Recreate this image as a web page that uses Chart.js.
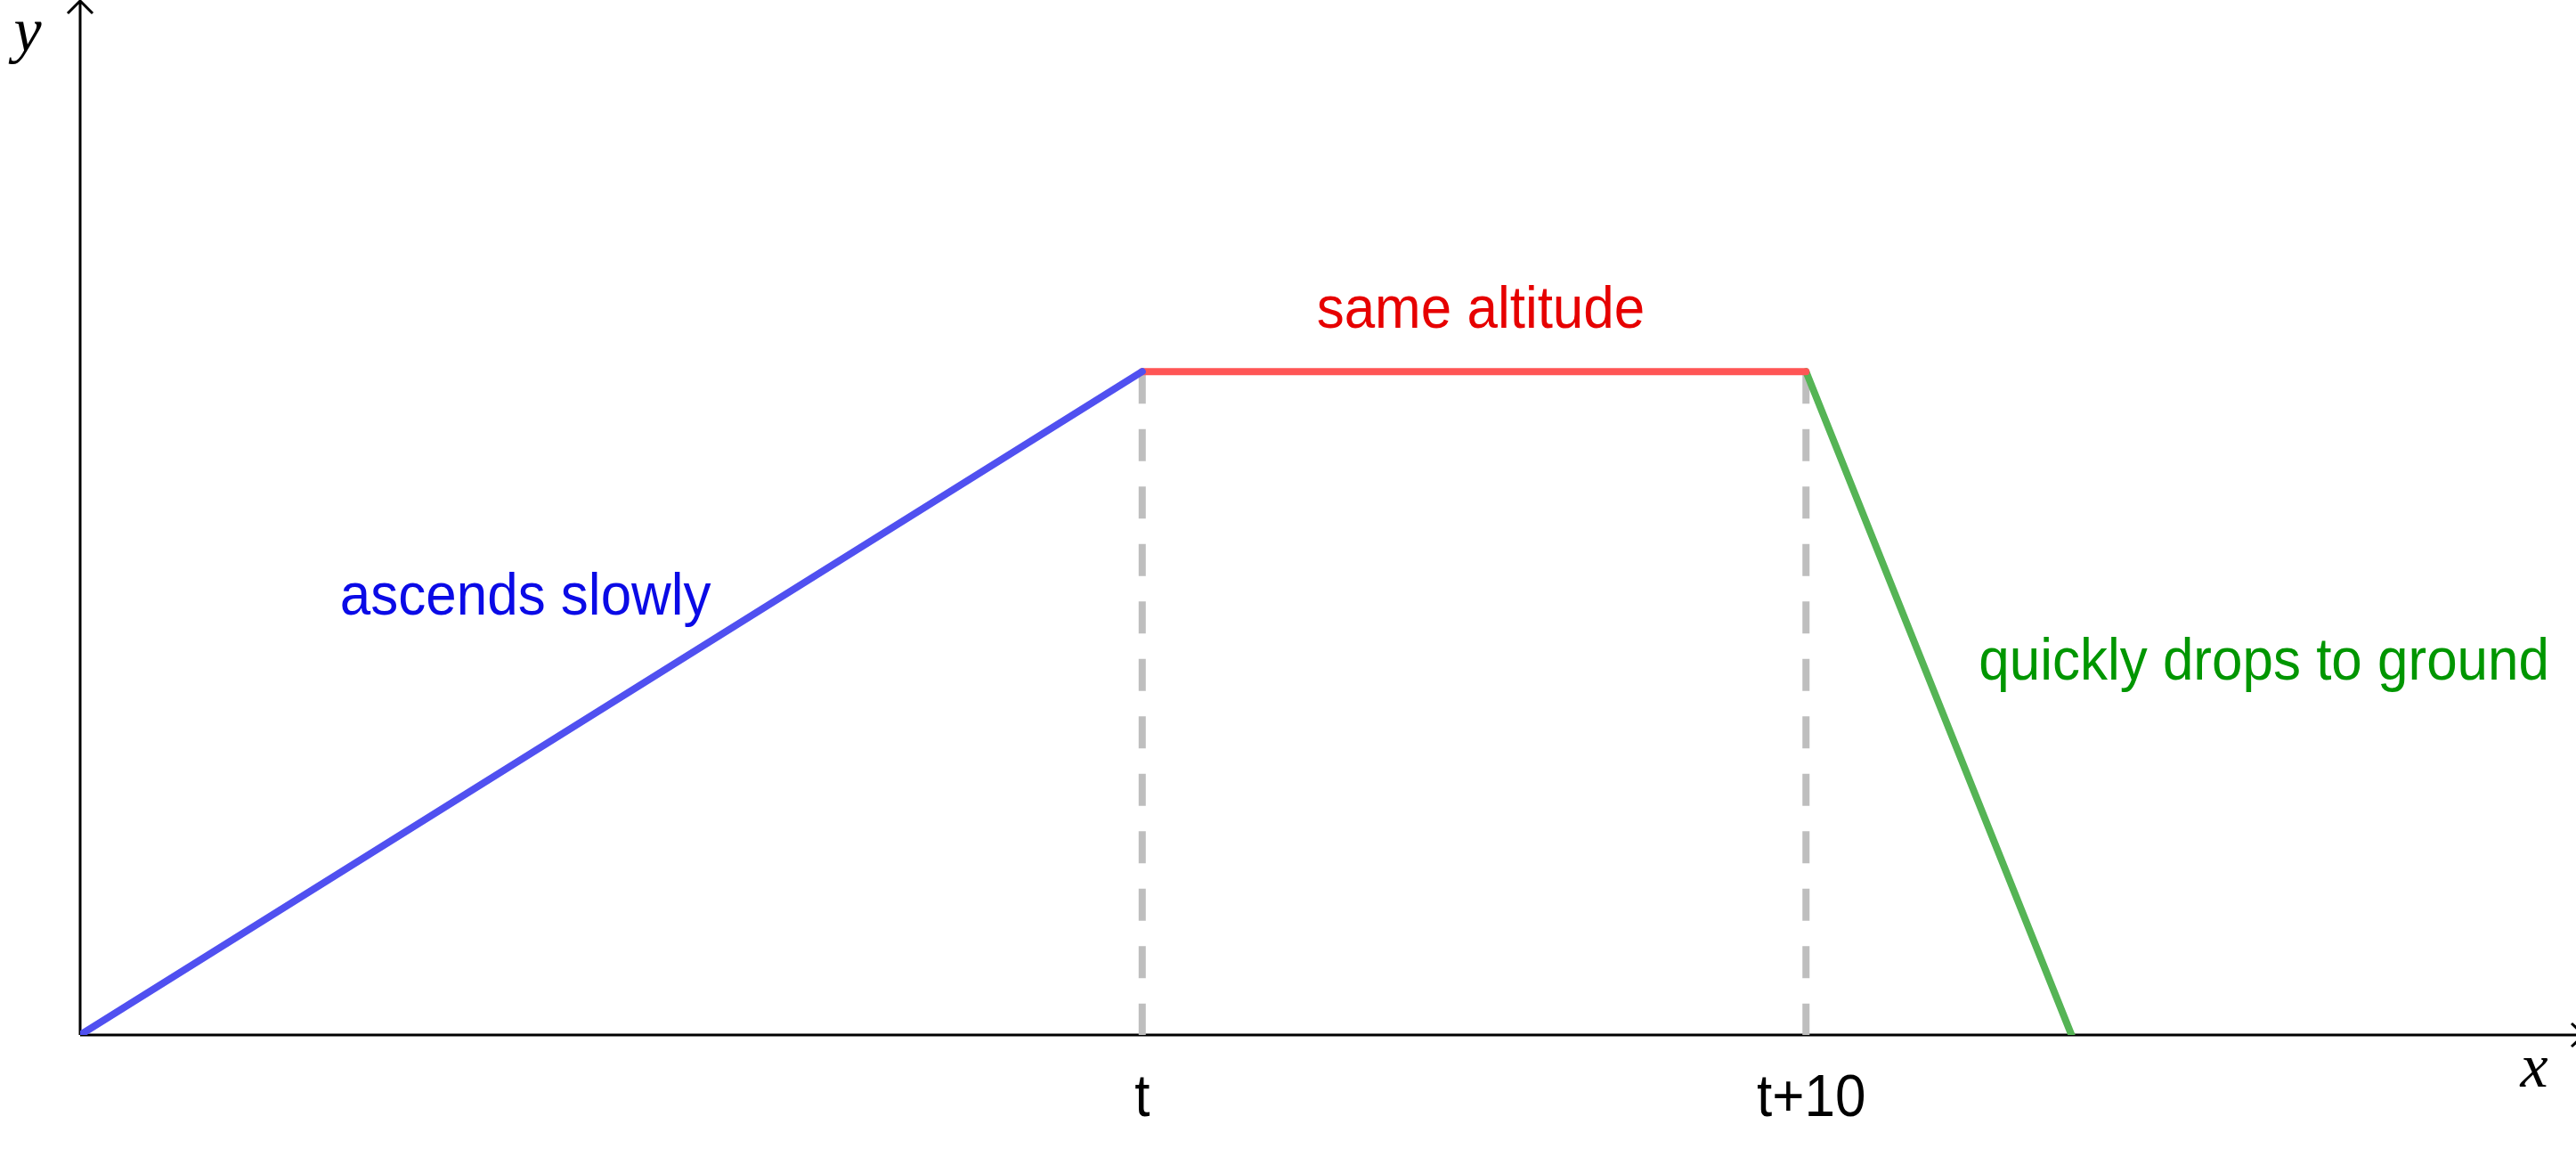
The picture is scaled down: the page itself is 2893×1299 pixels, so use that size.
<!DOCTYPE html>
<html>
<head>
<meta charset="utf-8">
<script src="https://cdn.jsdelivr.net/npm/chart.js@4.4.1/dist/chart.umd.min.js"></script>
<style>
  html, body { margin: 0; padding: 0; background: #fff; overflow: hidden; }
  canvas { display: block; }
</style>
</head>
<body>
<canvas id="flightChart" width="2893" height="1299"></canvas>
<script>
// time points and altitude of the flight path
const timeX = [0, 16, 26, 30];
const altitude = [0, 10, 10, 0];

// marked times on the x axis
const tickValues = [16, 26];
const tickLabels = ['t', 't+10'];

// axis limits
const xMax = 37.6;
const yMax = 15.6;

// turn two indices of the arrays into a segment
function segment(i, j) {
    return [{x: timeX[i], y: altitude[i]}, {x: timeX[j], y: altitude[j]}];
}

// dashed guides from the plateau down to the axis
function guide(i) {
    return [{x: timeX[i], y: altitude[i]}, {x: timeX[i], y: 0}];
}

const notes = [
    {text: 'ascends slowly', x: 6.71, y: 6.33, color: 'rgb(10,10,230)'},
    {text: 'same altitude', x: 21.1, y: 10.66, color: 'rgb(230,0,0)'},
    {text: 'quickly drops to ground', x: 32.9, y: 5.35, color: 'rgb(0,150,0)'}
];

// text in the picture is a bit narrow and tall
function narrowText(ctx, text, x, y) {
    ctx.save();
    ctx.translate(x, y);
    ctx.scale(0.925, 1);
    ctx.fillText(text, 0, 0);
    ctx.restore();
}

const axesPlugin = {
    id: 'axesPlugin',
    beforeDatasetsDraw(chart) {
        const ctx = chart.ctx;
        const xs = chart.scales.x, ys = chart.scales.y;
        const x0 = xs.getPixelForValue(0), y0 = ys.getPixelForValue(0);
        ctx.save();
        ctx.strokeStyle = '#000';
        ctx.lineWidth = 3;
        ctx.beginPath();
        ctx.moveTo(x0, y0);
        ctx.lineTo(x0, 1);
        ctx.moveTo(x0, y0);
        ctx.lineTo(chart.width + 10, y0);
        // arrow heads
        ctx.moveTo(x0 - 14, 15);
        ctx.lineTo(x0, 1);
        ctx.lineTo(x0 + 14, 15);
        const xt = xs.getPixelForValue(xMax) + 9;
        ctx.moveTo(xt - 14, y0 - 13);
        ctx.lineTo(xt, y0);
        ctx.lineTo(xt - 14, y0 + 13);
        ctx.stroke();
        ctx.restore();
    },
    afterDatasetsDraw(chart) {
        const ctx = chart.ctx;
        const xs = chart.scales.x, ys = chart.scales.y;
        const y0 = ys.getPixelForValue(0);
        ctx.save();
        ctx.textAlign = 'center';
        ctx.textBaseline = 'alphabetic';
        ctx.font = '67px "Liberation Sans", Arial, sans-serif';
        ctx.fillStyle = '#000';
        tickValues.forEach((v, i) => {
            narrowText(ctx, tickLabels[i], xs.getPixelForValue(v) + (i == 1 ? 6 : 0), y0 + 91);
        });
        notes.forEach(n => {
            ctx.fillStyle = n.color;
            narrowText(ctx, n.text, xs.getPixelForValue(n.x), ys.getPixelForValue(n.y));
        });
        ctx.fillStyle = '#000';
        ctx.font = 'italic 70px "Liberation Serif", "DejaVu Serif", serif';
        ctx.fillText('y', 31, 57);
        ctx.fillText('x', 2846, 1220);
        ctx.restore();
    }
};

const lineStyle = {showLine: true, pointRadius: 0, borderWidth: 8, borderCapStyle: 'round', fill: false};

new Chart(document.getElementById('flightChart'), {
    type: 'scatter',
    data: {
        datasets: [
            Object.assign({label: 'ascent', data: segment(0, 1), borderColor: 'rgb(80,80,240)', order: 1}, lineStyle),
            Object.assign({label: 'cruise', data: segment(1, 2), borderColor: 'rgb(255,85,85)', order: 1}, lineStyle),
            Object.assign({label: 'descent', data: segment(2, 3), borderColor: 'rgb(85,180,85)', order: 1}, lineStyle),
            {label: 'guide t', data: guide(1), showLine: true, pointRadius: 0, borderWidth: 8,
             borderColor: 'rgb(190,190,190)', borderDash: [36, 28.5], borderCapStyle: 'butt', order: 2},
            {label: 'guide t+10', data: guide(2), showLine: true, pointRadius: 0, borderWidth: 8,
             borderColor: 'rgb(190,190,190)', borderDash: [36, 28.5], borderCapStyle: 'butt', order: 2}
        ]
    },
    options: {
        responsive: false,
        animation: false,
        devicePixelRatio: 1,
        layout: {padding: {left: 90, right: 0, top: 0, bottom: 137}},
        plugins: {legend: {display: false}, tooltip: {enabled: false}},
        scales: {
            x: {type: 'linear', min: 0, max: xMax, display: false},
            y: {type: 'linear', min: 0, max: yMax, display: false}
        }
    },
    plugins: [axesPlugin]
});
</script>
</body>
</html>
